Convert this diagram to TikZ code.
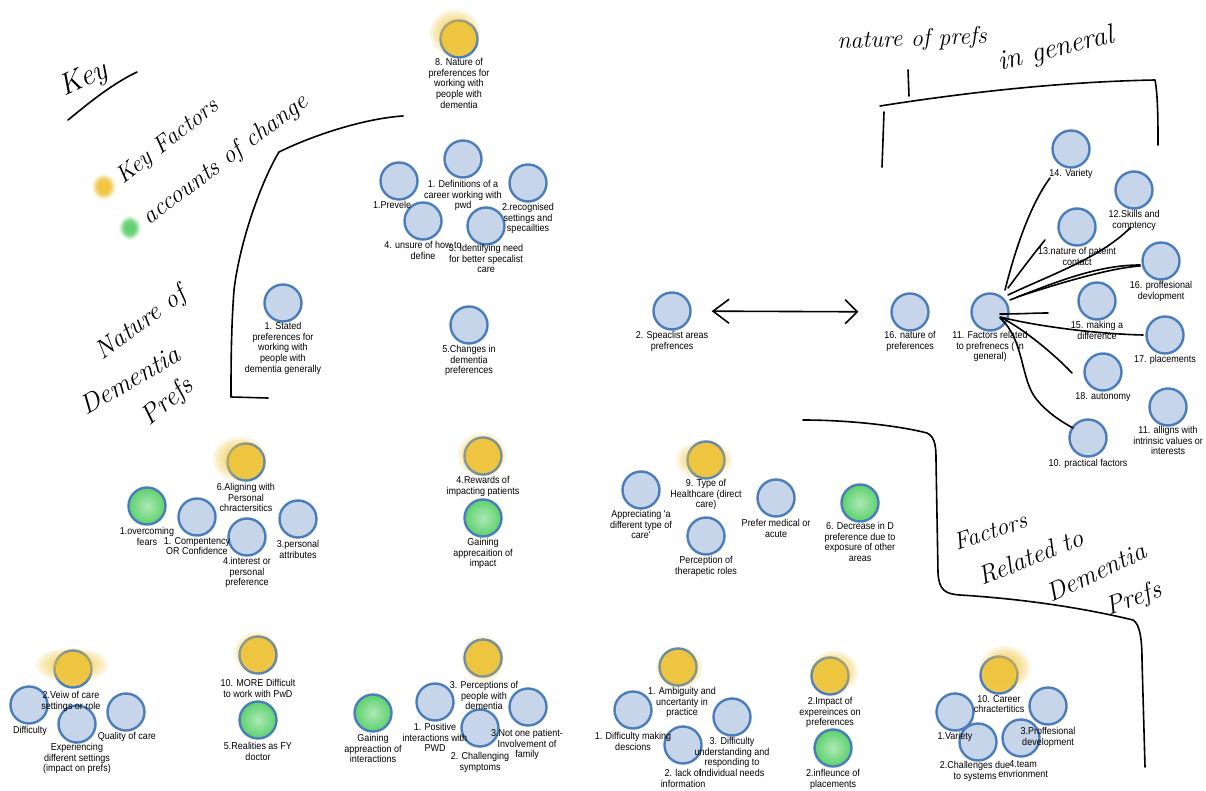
\documentclass[tikz,border=0pt]{standalone}
\usepackage{fontspec}
\newfontfamily\lblfam{Liberation Sans}[FakeStretch=0.9]
\usetikzlibrary{arrows.meta}
\definecolor{cfill}{HTML}{C6D5EA}
\definecolor{cline}{HTML}{4A7DBA}
\definecolor{hly}{HTML}{F2C53A}
\definecolor{hlg}{HTML}{5CD16C}
\tikzset{
  bub/.style={circle, minimum size=37pt, inner sep=0pt, draw=cline, fill=cfill, line width=2.4pt},
  ybub/.style={bub, fill=hly!90!cfill},
  gbub/.style={bub, fill=none, inner color=hlg!50!white, outer color=hlg},
  lbl/.style={font=\lblfam\fontsize{10}{10.7}\selectfont, align=center, inner sep=0pt, anchor=north},
  hand/.style={line width=1.6pt, line cap=round, line join=round},
  hw/.style={font=\rmfamily\itshape\fontsize{#1}{#1}\selectfont, inner sep=0pt},
}
% soft highlighter smear: colour, centre x, centre y, x radius, y radius
\newcommand\blob[5]{\foreach \k in {1,0.88,0.76,0.64,0.52}{\fill[#1,opacity=0.17] (#2,#3) ellipse [x radius=\k*#4, y radius=\k*#5];}}
\begin{document}
\begin{tikzpicture}[x=1pt,y=-1pt]
\fill[white] (0,0) rectangle (1206,791);
\useasboundingbox (0,0) rectangle (1206,791);

% key dots
\blob{hly}{104}{187}{12}{13}
\blob{hly}{104}{187}{10}{11}
\blob{hly}{104}{187}{8}{9}
\blob{hlg}{130}{228}{11}{12}
\blob{hlg}{130}{228}{9}{10}
\blob{hlg}{130}{228}{7}{8}

% highlighted key factors (yellow)
\node[ybub] (n8) at (459,39) {};   \blob{hly}{455}{33}{25}{23}
\node[ybub] (a6) at (246,462) {};  \blob{hly}{240}{459}{27}{22}
\node[ybub] (r4) at (483,456) {};  \blob{hly}{482}{455}{24}{22}
\node[ybub] (t9) at (706,460) {};  \blob{hly}{704}{460}{28}{19}
\node[ybub] (b2) at (73,669) {};   \blob{hly}{72}{665}{36}{17}
\node[ybub] (m10) at (258,655) {}; \blob{hly}{256}{653}{22}{21}
\node[ybub] (p3) at (483,658) {};  \blob{hly}{483}{659}{21}{23}
\node[ybub] (am1) at (678,667) {}; \blob{hly}{679}{668}{23}{21}
\node[ybub] (i2) at (830,676) {};  \blob{hly}{834}{672}{24}{21}
\node[ybub] (c10) at (999,675) {}; \blob{hly}{1005}{668}{25}{22}

% plain bubbles
\node[bub] (d1) at (463,159) {};
\node[bub] (dprev) at (399,181) {};
\node[bub] (d4) at (423,221) {};
\node[bub] (d2) at (528,183) {};
\node[bub] (d3) at (486,226) {};
\node[bub] (d5) at (469,325) {};
\node[bub] (s1) at (283,303) {};
\node[bub] (sp2) at (672,311) {};
\node[bub] (nat16) at (910,312) {};
\node[bub] (f11) at (990,312) {};
\node[bub] (v14) at (1071,149) {};
\node[bub] (v12) at (1134,190) {};
\node[bub] (v13) at (1077,227) {};
\node[bub] (v16) at (1161,261) {};
\node[bub] (v15) at (1097,301) {};
\node[bub] (v17) at (1165,335) {};
\node[bub] (v18) at (1103,372) {};
\node[bub] (v11) at (1168,407) {};
\node[bub] (v10) at (1088,438) {};
\node[bub] (a1c) at (197,517) {};
\node[bub] (a4) at (247,537) {};
\node[bub] (a3) at (298,519) {};
\node[bub] (tapp) at (641,490) {};
\node[bub] (tper) at (706,536) {};
\node[bub] (tpre) at (776,498) {};
\node[bub] (bdif) at (29,705) {};
\node[bub] (bexp) at (77,724) {};
\node[bub] (bq) at (126,712) {};
\node[bub] (p1) at (435,702) {};
\node[bub] (p2) at (480,728) {};
\node[bub] (pn) at (528,707) {};
\node[bub] (am1d) at (633,710) {};
\node[bub] (am2) at (683,745) {};
\node[bub] (am3) at (732,717) {};
\node[bub] (c1) at (955,712) {};
\node[bub] (c3) at (1048,706) {};
\node[bub] (c2) at (978,742) {};
\node[bub] (c4) at (1021,738) {};

% accounts of change (green)
\node[gbub] (a1o) at (147,506) {};
\node[gbub] (rg) at (483,518) {};
\node[gbub] (t6) at (860,503) {};
\node[gbub] (m5) at (258,720) {};
\node[gbub] (ga) at (373,713) {};
\node[gbub] (i2g) at (833,748) {};

% labels
\node[lbl] (n8-t) at (459,58) {8. Nature of\\preferences for\\working with\\people with\\dementia};
\node[lbl] (d1-t) at (463,180) {1. Definitions of a\\career working with\\pwd};
\node[lbl, anchor=north west] (dprev-t) at (373,201) {1.Prevele};
\node[lbl] (d4-t) at (423,241) {4. unsure of how to\\define};
\node[lbl] (d2-t) at (528,203) {2.recognised\\settings and\\specailties};
\node[lbl] (d3-t) at (486,244) {3. Identifying need\\for better specalist\\care};
\node[lbl] (d5-t) at (469,345) {5.Changes in\\dementia\\preferences};
\node[lbl] (s1-t) at (283,322) {1. Stated\\preferences for\\working with\\people with\\dementia generally};
\node[lbl] (sp2-t) at (672,331) {2. Speaclist areas\\prefrences};
\node[lbl] (nat16-t) at (910,331) {16. nature of\\preferences};
\node[lbl] (f11-t) at (990,331) {11. Factors related\\to prefrenecs ( in\\general)};
\node[lbl] (v14-t) at (1071,169) {14. Variety};
\node[lbl] (v12-t) at (1134,210) {12.Skills and\\comptency};
\node[lbl] (v13-t) at (1077,247) {13.nature of pateint\\contact};
\node[lbl] (v16-t) at (1161,281) {16. proffesional\\devlopment};
\node[lbl] (v15-t) at (1097,321) {15. making a\\difference};
\node[lbl] (v17-t) at (1165,355) {17. placements};
\node[lbl] (v18-t) at (1103,392) {18. autonomy};
\node[lbl] (v11-t) at (1168,426) {11. alligns with\\intrinsic values or\\interests};
\node[lbl] (v10-t) at (1088,459) {10. practical factors};
\node[lbl] (a6-t) at (246,483) {6.Aligning with\\Personal\\chractersitics};
\node[lbl] (a1o-t) at (147,527) {1.overcoming\\fears};
\node[lbl] (a1c-t) at (197,537) {1. Compentency\\OR Confidence};
\node[lbl] (a4-t) at (247,557) {4.interest or\\personal\\preference};
\node[lbl] (a3-t) at (298,540) {3.personal\\attributes};
\node[lbl] (r4-t) at (483,476) {4.Rewards of\\impacting patients};
\node[lbl] (rg-t) at (483,538) {Gaining\\apprecaition of\\impact};
\node[lbl] (t9-t) at (706,479) {9. Type of\\Healthcare (direct\\care)};
\node[lbl] (tapp-t) at (641,510) {Appreciating 'a\\different type of\\care'};
\node[lbl] (tper-t) at (706,556) {Perception of\\therapetic roles};
\node[lbl] (tpre-t) at (776,519) {Prefer medical or\\acute};
\node[lbl] (t6-t) at (860,522) {6. Decrease in D\\preference due to\\exposure of other\\areas};
\node[lbl] (b2-t) at (71,691) {2.Veiw of care\\settings or role};
\node[lbl] (bdif-t) at (30,726) {Difficulty};
\node[lbl] (bexp-t) at (77,743) {Experiencing\\different settings\\(impact on prefs)};
\node[lbl] (bq-t) at (127,732) {Quality of care};
\node[lbl] (m10-t) at (258,679) {10. MORE Difficult\\to work with PwD};
\node[lbl] (m5-t) at (258,742) {5.Realities as FY\\doctor};
\node[lbl] (ga-t) at (373,734) {Gaining\\appreaction of\\interactions};
\node[lbl] (p3-t) at (484,681) {3. Perceptions of\\people with\\dementia};
\node[lbl] (p1-t) at (435,723) {1. Positive\\interactions with\\PWD};
\node[lbl] (p2-t) at (480,752) {2. Challenging\\symptoms};
\node[lbl] (pn-t) at (527,729) {3.Not one patient-\\Involvement of\\family};
\node[lbl] (am1-t) at (682,687) {1. Ambiguity and\\uncertanty in\\practice};
\node[lbl] (am1d-t) at (633,732) {1. Difficulty making\\descions};
\node[lbl] (am2-t) at (683,769) {2. lack of\\information};
\node[lbl] (am3-t) at (732,737) {3. Difficulty\\understanding and\\responding to\\individual needs};
\node[lbl] (i2-t) at (830,697) {2.Impact of\\expereinces on\\preferences};
\node[lbl] (i2g-t) at (833,769) {2.infleunce of\\placements};
\node[lbl] (c10-t) at (999,695) {10. Career\\chractertitics};
\node[lbl] (c1-t) at (955,732) {1.Variety};
\node[lbl] (c3-t) at (1048,727) {3.Proffesional\\development};
\node[lbl] (c2-t) at (975,761) {2.Challenges due\\to systems};
\node[lbl] (c4-t) at (1023,760) {4.team\\envrionment};

% handwritten key
\node[hw=30, rotate=25] (key) at (84,80) {Key};
\draw[hand] (68,120) .. controls (90,102) and (112,84) .. (137,72);
\node[hw=24, rotate=38] (keyf) at (168,142) {Key Factors};
\node[hw=25, rotate=37] (acc) at (226,160) {accounts of change};

% handwritten group headings
\node[hw=26, rotate=36] (natd1) at (141,324) {Nature of};
\node[hw=27, rotate=30] (natd2) at (130,380) {Dementia};
\node[hw=27, rotate=40] (natd3) at (168,402) {Prefs};
\node[hw=24, rotate=2] (natg1) at (912,40) {nature of prefs};
\node[hw=28, rotate=14] (natg2) at (1056,50) {in general};
\node[hw=24, rotate=18] (fr1) at (990,531) {Factors};
\node[hw=26, rotate=22] (fr2) at (1031,557) {Related to};
\node[hw=26, rotate=25] (fr3) at (1096,572) {Dementia};
\node[hw=26, rotate=20] (fr4) at (1134,600) {Prefs};

% brackets
\draw[hand] (403,116) .. controls (370,118) and (320,132) .. (279,152)
  .. controls (262,180) and (240,240) .. (234,290)
  .. controls (231,330) and (231,370) .. (231,397) -- (268,398);
\draw[hand] (908,70) -- (909,96);
\draw[hand] (880,106) .. controls (950,95) and (1050,82) .. (1155,80)
  .. controls (1158,95) and (1158,125) .. (1158,145);
\draw[hand] (884,112) -- (882,167);
\draw[hand] (803,420) .. controls (850,420) and (900,426) .. (927,433)
  .. controls (936,437) and (936,450) .. (936,460) -- (938,573)
  .. controls (939,590) and (945,594) .. (960,595)
  .. controls (1040,600) and (1100,612) .. (1133,620)
  .. controls (1140,624) and (1142,640) .. (1142,660) -- (1145,767);

% double arrow between the two preference nodes
\draw[hand, {Straight Barb[length=16pt,width=24pt]}-{Straight Barb[length=12pt,width=24pt]},
  shorten <=20pt, shorten >=32pt] (sp2) -- (nat16);

% fan of factors
\draw[hand] ([shift={(15,-22)}]f11.center) .. controls (1015,250) and (1030,205) .. ([shift={(-21,29)}]v14.center);
\draw[hand] ([shift={(18,-24)}]f11.center) .. controls (1020,272) and (1035,252) .. ([shift={(-32,13)}]v13.center);
\draw[hand] ([shift={(18,-17)}]f11.center) .. controls (1050,275) and (1100,258) .. ([shift={(-4,38)}]v12.center);
\draw[hand] ([shift={(20,-12)}]f11.center) .. controls (1060,280) and (1100,265) .. ([shift={(-21,4)}]v16.center);
\draw[hand] ([shift={(27,-15)}]f11.center) .. controls (1060,283) and (1110,268) .. ([shift={(-21,5)}]v16.center);
\draw[hand] ([shift={(10,2)}]f11.center) .. controls (1020,314) and (1035,313) .. ([shift={(-49,12)}]v15.center);
\draw[hand] ([shift={(10,5)}]f11.center) .. controls (1040,327) and (1100,334) .. ([shift={(-22,0)}]v17.center);
\draw[hand] ([shift={(12,6)}]f11.center) .. controls (1025,330) and (1055,355) .. ([shift={(-31,1)}]v18.center);
\draw[hand] ([shift={(10,6)}]f11.center) .. controls (1025,340) and (1020,380) .. (1037,400)
  .. controls (1047,412) and (1060,421) .. ([shift={(-15,-10)}]v10.center);
\end{tikzpicture}
\end{document}
